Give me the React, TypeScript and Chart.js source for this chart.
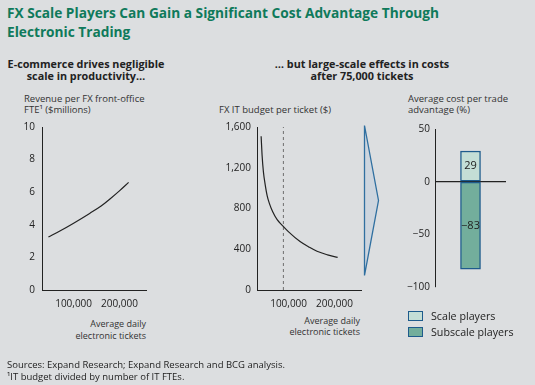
import React, { useEffect, useRef } from "react";
import { Chart, registerables } from "chart.js";

Chart.register(...registerables);

// ---------- data ----------
const titleLines = [
  "FX Scale Players Can Gain a Significant Cost Advantage Through",
  "Electronic Trading",
];
const leftSubtitle = ["E-commerce drives negligible", "scale in productivity…"];
const rightSubtitle = ["… but large-scale effects in costs", "after 75,000 tickets"];
const leftAxisTitle = ["Revenue per FX front-office", "FTE¹ ($millions)"];
const midAxisTitle = ["FX IT budget per ticket ($)"];
const barAxisTitle = ["Average cost per trade", "advantage (%)"];
const xAxisTitle = ["Average daily", "electronic tickets"];
const footerLines = [
  "Sources: Expand Research; Expand Research and BCG analysis.",
  "¹IT budget divided by number of IT FTEs.",
];

const xMin = 31000;
const xMax = 258000;
const xTicks = [100000, 200000];

const leftX = [45000, 70000, 100000, 135000, 160000, 180000, 200000, 220000];
const leftY = [3.25, 3.62, 4.1, 4.7, 5.15, 5.6, 6.08, 6.6];
const leftYTicks = [0, 2, 4, 6, 8, 10];

const midX = [40000, 42000, 45000, 49000, 53000, 58000, 65000, 75000, 86000, 100000, 125000, 145000, 162000, 185000, 207000];
const midY = [1510, 1330, 1160, 1030, 930, 850, 770, 690, 635, 570, 475, 420, 380, 345, 320];
const midYTicks = [0, 400, 800, 1200, 1600];
const thresholdX = 88600;

const barCategories = [""];
const seriesNames = ["Scale players", "Subscale players"];
const scaleValues = [29];
const subscaleValues = [-83];
const barYTicks = [-100, -50, 0, 50];

// ---------- styles ----------
const BG = "#dcdee0";
const INK = "#222222";
const GREEN = "#0f7a5b";
const LIGHT = "#c4ded6";
const DARK = "#73ae9c";
const BLUE = "#1e5b8c";
const FONT = "'Open Sans', 'Noto Sans', sans-serif";
const tickFont = { family: FONT, size: 10 };

const fmt = (v: number) =>
  (v < 0 ? "\u2212" : "") + Math.abs(v).toLocaleString("en-US");

function setTicks(values: number[]) {
  return (s: any) => {
    s.ticks = values.map((v) => ({ value: v }));
  };
}

function lineOptions(yMin: number, yMax: number, yTicks: number[], yWidth: number, yPad: number, padRight: number, padTop: number) {
  return {
    responsive: false,
    animation: false as const,
    events: [],
    layout: { padding: { left: 0, top: padTop, right: padRight, bottom: 0 } },
    plugins: { legend: { display: false }, tooltip: { enabled: false } },
    scales: {
      x: {
        type: "linear" as const,
        min: xMin,
        max: xMax,
        afterBuildTicks: setTicks(xTicks),
        afterFit: (s: any) => {
          s.height = 20;
        },
        grid: { display: false, drawTicks: false },
        border: { display: true, color: INK, width: 1 },
        ticks: {
          padding: 8,
          font: tickFont,
          color: INK,
          autoSkip: false,
          maxRotation: 0,
          callback: (v: any) => fmt(Number(v)),
        },
      },
      y: {
        min: yMin,
        max: yMax,
        afterBuildTicks: setTicks(yTicks),
        afterFit: (s: any) => {
          s.width = yWidth;
        },
        grid: { display: false, drawTicks: false },
        border: { display: true, color: INK, width: 1 },
        ticks: {
          padding: yPad,
          font: tickFont,
          color: INK,
          autoSkip: false,
          callback: (v: any) => fmt(Number(v)),
        },
      },
    },
  };
}

const barLabelPlugin = {
  id: "barLabels",
  afterDatasetsDraw(chart: any) {
    const ctx = chart.ctx;
    ctx.save();
    ctx.font = `11px ${FONT}`;
    ctx.fillStyle = INK;
    ctx.textAlign = "center";
    ctx.textBaseline = "middle";
    chart.data.datasets.forEach((ds: any, i: number) => {
      const meta = chart.getDatasetMeta(i);
      meta.data.forEach((el: any, j: number) => {
        const v = ds.data[j];
        ctx.fillText(fmt(v), el.x, (el.y + el.base) / 2);
      });
    });
    ctx.restore();
  },
};

function Lines({ lines, style }: { lines: string[]; style: React.CSSProperties }) {
  return (
    <div style={{ position: "absolute", whiteSpace: "nowrap", ...style }}>
      {lines.map((l, i) => (
        <div key={i}>{l}</div>
      ))}
    </div>
  );
}

export default function App() {
  const leftRef = useRef<HTMLCanvasElement>(null);
  const midRef = useRef<HTMLCanvasElement>(null);
  const barRef = useRef<HTMLCanvasElement>(null);

  useEffect(() => {
    const left = new Chart(leftRef.current!, {
      type: "line",
      data: {
        datasets: [
          {
            data: leftX.map((x, i) => ({ x, y: leftY[i] })),
            borderColor: INK,
            borderWidth: 1.2,
            pointRadius: 0,
            cubicInterpolationMode: "monotone",
            fill: false,
          },
        ],
      },
      options: lineOptions(0, 10, leftYTicks, 42, 7, 14, 17) as any,
    });

    const mid = new Chart(midRef.current!, {
      type: "line",
      data: {
        datasets: [
          {
            data: midX.map((x, i) => ({ x, y: midY[i] })),
            borderColor: INK,
            borderWidth: 1.2,
            pointRadius: 0,
            cubicInterpolationMode: "monotone",
            fill: false,
          },
          {
            data: [
              { x: thresholdX, y: midYTicks[0] },
              { x: thresholdX, y: midYTicks[midYTicks.length - 1] },
            ],
            borderColor: "#6f6f6f",
            borderWidth: 1,
            borderDash: [3, 3],
            pointRadius: 0,
            fill: false,
          },
        ],
      },
      options: lineOptions(0, 1600, midYTicks, 57, 6, 4, 17) as any,
    });

    const bar = new Chart(barRef.current!, {
      type: "bar",
      data: {
        labels: barCategories,
        datasets: [
          {
            label: seriesNames[0],
            data: scaleValues,
            backgroundColor: LIGHT,
            borderColor: BLUE,
            borderWidth: 1.4,
            borderSkipped: false,
            barThickness: 20,
          },
          {
            label: seriesNames[1],
            data: subscaleValues,
            backgroundColor: DARK,
            borderColor: BLUE,
            borderWidth: 1.4,
            borderSkipped: false,
            barThickness: 20,
          },
        ],
      },
      options: {
        responsive: false,
        animation: false,
        events: [],
        layout: { padding: { left: 0, top: 19, right: 29, bottom: 13 } },
        plugins: { legend: { display: false }, tooltip: { enabled: false } },
        scales: {
          x: { stacked: true, display: false },
          y: {
            stacked: true,
            min: -100,
            max: 50,
            z: 1,
            afterBuildTicks: setTicks(barYTicks),
            afterFit: (s: any) => {
              s.width = 55;
            },
            grid: {
              display: true,
              drawTicks: false,
              lineWidth: 1.2,
              color: (c: any) => (c.tick && c.tick.value === 0 ? INK : "rgba(0,0,0,0)"),
            },
            border: { display: true, color: INK, width: 1 },
            ticks: {
              padding: 5,
              font: tickFont,
              color: INK,
              autoSkip: false,
              callback: (v: any) => fmt(Number(v)),
            },
          },
        },
      } as any,
      plugins: [barLabelPlugin],
    });

    return () => {
      left.destroy();
      mid.destroy();
      bar.destroy();
    };
  }, []);

  const legendColors = [LIGHT, DARK];

  return (
    <div
      style={{
        position: "fixed",
        left: 0,
        top: 0,
        width: 535,
        height: 385,
        background: BG,
        fontFamily: FONT,
        color: INK,
        overflow: "hidden",
      }}
    >
      <Lines
        lines={titleLines}
        style={{ left: 7, top: 3, fontSize: 13.7, lineHeight: "19px", fontWeight: 700, color: GREEN }}
      />
      <Lines
        lines={leftSubtitle}
        style={{ left: 0, width: 172, top: 57.5, fontSize: 10.8, lineHeight: "12px", fontWeight: 700, textAlign: "center" }}
      />
      <Lines
        lines={rightSubtitle}
        style={{ left: 262, width: 200, top: 57.5, fontSize: 10.8, lineHeight: "12px", fontWeight: 700, textAlign: "center" }}
      />
      <Lines lines={leftAxisTitle} style={{ left: 24, top: 92.5, fontSize: 9.5, lineHeight: "11px", color: "#333" }} />
      <Lines lines={midAxisTitle} style={{ left: 219, top: 104, fontSize: 9.5, lineHeight: "11px", color: "#333" }} />
      <Lines lines={barAxisTitle} style={{ left: 408, top: 93, fontSize: 9.5, lineHeight: "11px", color: "#333" }} />
      <Lines
        lines={xAxisTitle}
        style={{ right: 535 - 146, top: 318, fontSize: 9, lineHeight: "12px", color: "#333", textAlign: "right" }}
      />
      <Lines
        lines={xAxisTitle}
        style={{ right: 535 - 360, top: 314.5, fontSize: 9, lineHeight: "11px", color: "#333", textAlign: "right" }}
      />

      <canvas ref={leftRef} width={160} height={200} style={{ position: "absolute", left: 0, top: 110 }} />
      <canvas ref={midRef} width={165} height={200} style={{ position: "absolute", left: 200, top: 110 }} />
      <canvas ref={barRef} width={155} height={190} style={{ position: "absolute", left: 380, top: 110 }} />

      <svg width={535} height={385} style={{ position: "absolute", left: 0, top: 0, pointerEvents: "none" }}>
        <polygon
          points="364.5,125.5 378.5,200.5 364.5,275.5"
          fill="#cdd5de"
          stroke="#2f6fa0"
          strokeWidth={1.3}
          strokeLinejoin="miter"
        />
      </svg>

      <div style={{ position: "absolute", left: 408, top: 307.6, fontSize: 10.7, lineHeight: "16.6px" }}>
        {seriesNames.map((n, i) => (
          <div key={n} style={{ display: "flex", alignItems: "center", height: 16.6 }}>
            <span
              style={{
                display: "inline-block",
                width: 13,
                height: 8,
                background: legendColors[i],
                border: `1px solid ${BLUE}`,
                marginRight: 8,
              }}
            />
            <span>{n}</span>
          </div>
        ))}
      </div>

      <Lines lines={footerLines} style={{ left: 7, top: 358.7, fontSize: 9.5, lineHeight: "12.3px" }} />
    </div>
  );
}
